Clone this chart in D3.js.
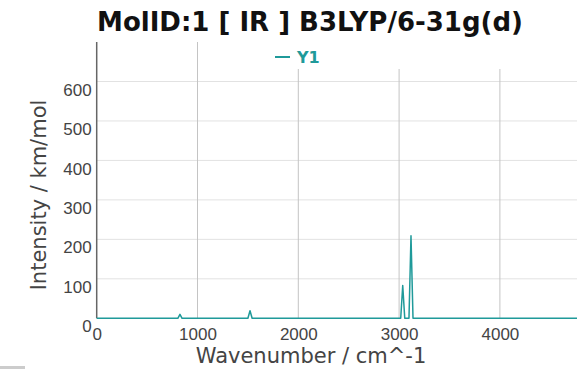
<!DOCTYPE html>
<html>
<head>
<meta charset="utf-8">
<script src="https://cdn.jsdelivr.net/npm/d3@7"></script>
<style>
  body { margin: 0; background: #fff; }
  svg { display: block; font-family: "DejaVu Sans", sans-serif; }
</style>
</head>
<body>
<svg id="chart" width="577" height="369"></svg>
<script>
// spectrum points (wavenumber, intensity)
var wavenumbers = [0, 805, 826, 847, 1500, 1521, 1542, 3016, 3036, 3056, 3098, 3118, 3138, 5000]
var intensities = [0, 0, 10, 0, 0, 19, 0, 0, 83, 0, 0, 209, 0, 0]
var xTicks = [0, 1000, 2000, 3000, 4000]
var yTicks = [0, 100, 200, 300, 400, 500, 600]
var seriesName = 'Y1'
var titleText = 'MolID:1 [ IR ] B3LYP/6-31g(d)'

var teal = '#1f9a9a'
var svg = d3.select('#chart')
var plotLeft = 96.7, plotTop = 42, plotBottom = 318.3

var x = d3.scaleLinear().domain([0, 5000]).range([plotLeft, plotLeft + 504])
var y = d3.scaleLinear().domain([0, 700]).range([plotBottom, plotTop])

// gridlines
svg.append('g').selectAll('line').data(yTicks.slice(1)).join('line')
  .attr('x1', plotLeft).attr('x2', 577)
  .attr('y1', d => y(d)).attr('y2', d => y(d))
  .attr('stroke', '#e2e2e2').attr('stroke-width', 1)
svg.append('g').selectAll('line').data(xTicks.slice(1)).join('line')
  .attr('x1', d => x(d)).attr('x2', d => x(d))
  .attr('y1', plotTop).attr('y2', plotBottom)
  .attr('stroke', '#c4c4c4').attr('stroke-width', 1)

// legend background hides top of gridlines
svg.append('rect').attr('x', 200).attr('y', plotTop - 1).attr('width', 377).attr('height', 28).attr('fill', '#fff')

// axes
var yAxis = svg.append('g').attr('transform', 'translate(' + plotLeft + ',0)')
  .call(d3.axisLeft(y).tickValues(yTicks).tickFormat(d3.format('d')).tickSize(0).tickPadding(5))
yAxis.select('.domain').remove()
yAxis.selectAll('text').attr('dy', '0.8em').attr('fill', '#444').style('font-size', '17px')
svg.append('line').attr('x1', plotLeft).attr('x2', plotLeft).attr('y1', plotTop).attr('y2', plotBottom)
  .attr('stroke', '#666').attr('stroke-width', 1.5)

var xAxis = svg.append('g').attr('transform', 'translate(0,' + plotBottom + ')')
  .call(d3.axisBottom(x).tickValues(xTicks).tickFormat(d3.format('d')).tickSize(0).tickPadding(10))
xAxis.select('.domain').remove()
xAxis.selectAll('text').attr('fill', '#444').style('font-size', '17px')

// spectrum
var pts = wavenumbers.map((w, i) => [w, intensities[i]])
svg.append('path').datum(pts)
  .attr('fill', 'none').attr('stroke', teal).attr('stroke-width', 1.5)
  .attr('stroke-linejoin', 'round')
  .attr('d', d3.line().x(d => x(d[0])).y(d => y(d[1])))

// title
svg.append('text').attr('x', 310).attr('y', 31).attr('text-anchor', 'middle')
  .attr('font-weight', 'bold').attr('font-size', 26).attr('fill', '#111').text(titleText)

// legend
svg.append('line').attr('x1', 275).attr('x2', 290).attr('y1', 57).attr('y2', 57)
  .attr('stroke', teal).attr('stroke-width', 2)
svg.append('text').attr('x', 297).attr('y', 63).attr('font-weight', 'bold')
  .attr('font-size', 16).attr('fill', teal).text(seriesName)

// axis titles
svg.append('text').attr('x', 311).attr('y', 363).attr('text-anchor', 'middle')
  .attr('font-size', 21).attr('fill', '#444').text('Wavenumber / cm^-1')
svg.append('text').attr('transform', 'translate(46,195) rotate(-90)').attr('text-anchor', 'middle')
  .attr('font-size', 21).attr('fill', '#444').text('Intensity / km/mol')

// grey strip at the bottom left
svg.append('rect').attr('x', 0).attr('y', 366).attr('width', 25).attr('height', 3).attr('fill', '#ccc')
</script>
</body>
</html>
